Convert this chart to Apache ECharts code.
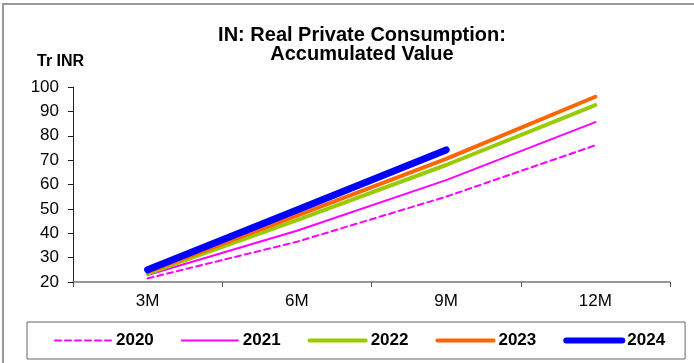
<!DOCTYPE html>
<html>
<head>
<meta charset="utf-8">
<script src="https://cdn.jsdelivr.net/npm/echarts@6/dist/echarts.min.js"></script>
<style>
  body { margin: 0; background: #fff; }
  #chart { width: 694px; height: 363px; }
  #frame { position: absolute; left: 2px; top: 3px; right: 0; bottom: 0; border-top: 2px solid #999; border-left: 2px solid #999; pointer-events: none; }
</style>
</head>
<body>
<div id="chart"></div>
<div id="frame"></div>
<script>
// quarters on the x axis
const categories = ['3M', '6M', '9M', '12M']
const years = ['2020', '2021', '2022', '2023', '2024']
// accumulated value, Tr INR
const v2020 = [21.5, 36.5, 55.0, 76.1]
const v2021 = [22.9, 41.0, 61.8, 85.6]
const v2022 = [23.4, 45.4, 68.0, 92.6]
const v2023 = [24.1, 47.2, 70.5, 96.0]
const v2024 = [25.0, 49.5, 74.2]

const colors = ['#ff00ff', '#ff00ff', '#99cc00', '#ff6600', '#0000ff']
const widths = [2, 2, 4, 4, 7]
const values = [v2020, v2021, v2022, v2023, v2024]

const chart = echarts.init(document.getElementById('chart'))

const option = {
  animation: false,
  title: {
    text: 'IN: Real Private Consumption:\nAccumulated Value',
    left: 357,
    textAlign: 'center',
    top: 21,
    textStyle: {
      fontFamily: 'Liberation Sans',
      fontWeight: 'bold',
      fontSize: 20,
      lineHeight: 19,
      color: '#000'
    }
  },
  graphic: [{
    type: 'text',
    left: 37,
    top: 54,
    style: {
      text: 'Tr INR',
      font: 'bold 16px "Liberation Sans"',
      fill: '#000'
    }
  }],
  legend: {
    data: years.map((y, i) => ({
      name: y,
      itemStyle: { opacity: 0 },
      lineStyle: {
        color: colors[i],
        width: widths[i] === 7 ? 6 : widths[i],
        type: i === 0 ? [6, 4] : 'solid',
        cap: 'round'
      }
    })),
    left: 27,
    top: 322,
    padding: [10, 20, 10, 27],
    itemGap: 27,
    itemWidth: 56,
    itemHeight: 14,
    borderColor: '#666',
    borderWidth: 1,
    textStyle: {
      fontFamily: 'Liberation Sans',
      fontWeight: 'bold',
      fontSize: 17,
      color: '#000'
    }
  },
  grid: {
    left: 73,
    right: 24,
    top: 87,
    bottom: 81
  },
  xAxis: {
    type: 'category',
    data: categories,
    boundaryGap: true,
    axisLine: { lineStyle: { color: '#777', width: 1.5 } },
    axisTick: { show: true, length: 5, lineStyle: { color: '#555' } },
    axisLabel: {
      margin: 11,
      fontFamily: 'Liberation Sans',
      fontSize: 17,
      color: '#000'
    },
    splitLine: { show: false }
  },
  yAxis: {
    type: 'value',
    min: 20,
    max: 100,
    interval: 10,
    axisLine: { show: true, lineStyle: { color: '#222' } },
    axisTick: { show: true, length: 5, lineStyle: { color: '#222' } },
    axisLabel: {
      margin: 14,
      fontFamily: 'Liberation Sans',
      fontSize: 17,
      color: '#000'
    },
    splitLine: { show: false }
  },
  series: years.map((y, i) => ({
    name: y,
    type: 'line',
    data: values[i],
    symbol: 'none',
    z: 2 + i,
    lineStyle: {
      color: colors[i],
      width: widths[i],
      type: i === 0 ? [6, 4] : 'solid',
      cap: 'round'
    },
    itemStyle: { color: colors[i] }
  }))
}

chart.setOption(option)
</script>
</body>
</html>
